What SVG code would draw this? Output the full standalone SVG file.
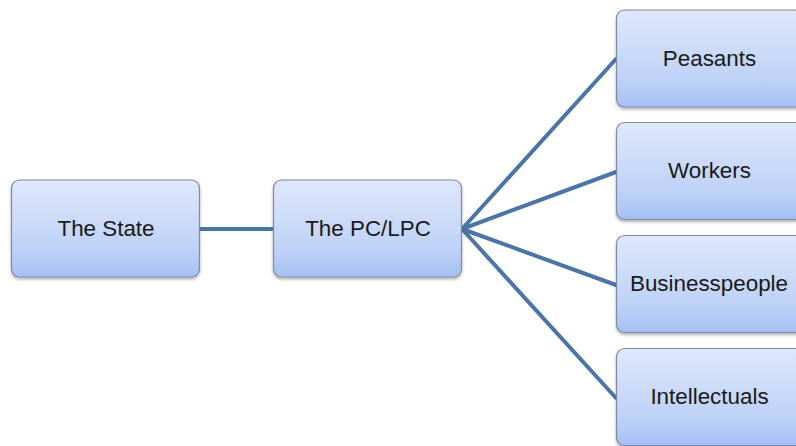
<svg xmlns="http://www.w3.org/2000/svg" width="796" height="446" viewBox="0 0 796 446">
<defs>
<linearGradient id="g" x1="0" y1="0" x2="0" y2="1">
<stop offset="0" stop-color="#dfe8fb"/>
<stop offset="0.75" stop-color="#bcd0f7"/>
<stop offset="1" stop-color="#a3c0f4"/>
</linearGradient>
<filter id="sh" x="-10%" y="-10%" width="120%" height="130%">
<feDropShadow dx="0" dy="2" stdDeviation="1.5" flood-color="#000" flood-opacity="0.3"/>
</filter>
</defs>
<style>
.box{fill:url(#g);stroke:#7f8b9e;stroke-width:1.2;filter:url(#sh)}
.lbl{font-family:"Liberation Sans",Arial,sans-serif;font-size:22.4px;fill:#1a1a1a;text-anchor:middle}
.conn{stroke:#4a75a6;stroke-width:4;fill:none;stroke-linecap:round}
</style>
<rect width="796" height="446" fill="#fff"/>
<g id="connectors">
<line class="conn" x1="199" y1="229" x2="273" y2="229"/>
<line class="conn" x1="462" y1="229" x2="616" y2="59"/>
<line class="conn" x1="462" y1="229" x2="616" y2="172"/>
<line class="conn" x1="462" y1="229" x2="616" y2="285"/>
<line class="conn" x1="462" y1="229" x2="616" y2="398"/>
</g>
<g id="state"><rect class="box" x="11.5" y="180" width="188" height="97" rx="8"/><text class="lbl" x="106" y="235.5">The State</text></g>
<g id="pc"><rect class="box" x="273.5" y="180" width="188" height="97" rx="8"/><text class="lbl" x="368" y="235.5">The PC/LPC</text></g>
<g id="peasants"><rect class="box" x="616.5" y="10" width="188" height="97" rx="8"/><text class="lbl" x="709.5" y="65.5">Peasants</text></g>
<g id="workers"><rect class="box" x="616.5" y="122.5" width="188" height="97" rx="8"/><text class="lbl" x="709.5" y="178">Workers</text></g>
<g id="business"><rect class="box" x="616.5" y="235.5" width="188" height="97" rx="8"/><text class="lbl" x="709" y="291">Businesspeople</text></g>
<g id="intellectuals"><rect class="box" x="616.5" y="348.5" width="188" height="97" rx="8"/><text class="lbl" x="709.5" y="404">Intellectuals</text></g>
</svg>
